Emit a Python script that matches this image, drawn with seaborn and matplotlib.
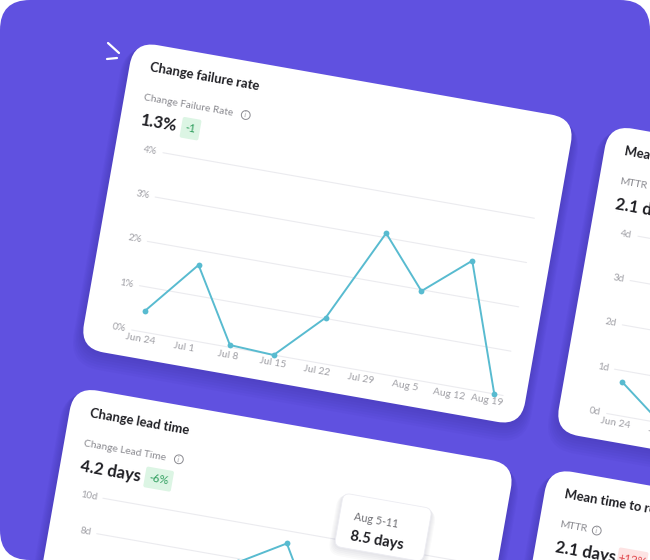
import numpy as np
import seaborn as sns
import matplotlib.pyplot as plt
from matplotlib.patches import FancyBboxPatch, Circle
from matplotlib.transforms import Affine2D

weeks = ['Jun 24', 'Jul 1', 'Jul 8', 'Jul 15', 'Jul 22', 'Jul 29', 'Aug 5', 'Aug 12', 'Aug 19']

cfr_weeks = weeks
cfr_values = [0.47, 1.68, 0.05, 0.0, 1.02, 3.1, 1.97, 2.83, 0.0]
cfr_ticks = [0, 1, 2, 3, 4]
cfr_tick_labels = ['0%', '1%', '2%', '3%', '4%']

lead_weeks = ['Jul 15', 'Jul 22', 'Jul 29', 'Aug 5']
lead_values = [7.8, 9.3, 5.1, 8.5]
lead_ticks = [0, 2, 4, 6, 8, 10]
lead_tick_labels = ['0d', '2d', '4d', '6d', '8d', '10d']

mttr_weeks = ['Jun 24', 'Jul 1']
mttr_values = [0.75, 0.0]
mttr_ticks = [0, 1, 2, 3, 4]
mttr_tick_labels = ['0d', '1d', '2d', '3d', '4d']

sns.set_theme(style='white')
plt.rcParams['font.family'] = ['Lato', 'DejaVu Sans']

PURPLE = '#6051E0'
LINE = '#58BBD0'
GRID = '#EBEBEF'
DARK = '#1F1F24'
GRAY = '#8A8A90'
TICK = '#A0A0A6'

ROT = 10.0
c, s = np.cos(np.radians(ROT)), np.sin(np.radians(ROT))
STEP = 44.8     # px between weeks inside a card
X0 = 9.75       # first week offset
PLOT_H = 180    # px height of plot area

fig = plt.figure(figsize=(6.5, 5.6), dpi=100, facecolor='white')
ax = fig.add_axes([0, 0, 1, 1])
ax.set_xlim(0, 650)
ax.set_ylim(560, 0)
ax.axis('off')

bg = FancyBboxPatch((0, 0), 650, 560, boxstyle='round,pad=0,rounding_size=30',
                    fc=PURPLE, ec='none', zorder=0)
ax.add_patch(bg)

# little white strokes top left
ax.plot([108, 119], [43, 53], color='white', lw=1.6, solid_capstyle='round', zorder=1)
ax.plot([107, 117], [59, 58], color='white', lw=1.6, solid_capstyle='round', zorder=1)


def put(frame, a, b, txt, z, **kw):
    ax.text(a, b, txt, transform=frame, rotation=-ROT, rotation_mode='anchor',
            zorder=z, **kw)


def card(ox, oy, z, title, subtitle, value, icon_a, badge=None, badge_a=0, badge_w=20,
         good=True):
    frame = Affine2D(np.array([[c, s, ox], [s, -c, oy], [0, 0, 1.0]])) + ax.transData
    # soft shadow
    for k in range(1, 8):
        ax.add_patch(FancyBboxPatch((-48 - k * 1.2, -27 - k * 2.6), 448 + k * 2.4, 312 + k * 2.0,
                                    boxstyle='round,pad=0,rounding_size=%d' % (24 + k),
                                    transform=frame, fc='#1a0f6e', ec='none', alpha=0.03,
                                    zorder=z))
    ax.add_patch(FancyBboxPatch((-48, -27), 448, 312, boxstyle='round,pad=0,rounding_size=24',
                                transform=frame, fc='white', ec='none', zorder=z + 0.1))
    put(frame, -28, 262, title, z + 0.5, fontsize=9.4, fontweight='bold', color=DARK,
        ha='left', va='center')
    put(frame, -28, 231, subtitle, z + 0.5, fontsize=7.4, color=GRAY, ha='left', va='center')
    ax.add_patch(Circle((icon_a, 231.5), 4.4, transform=frame, fc='none', ec=GRAY, lw=0.7,
                        zorder=z + 0.5))
    put(frame, icon_a - 0.6, 231.5, 'i', z + 0.5, fontsize=5, color=GRAY, ha='center',
        va='center')
    put(frame, -28, 208, value, z + 0.5, fontsize=12, fontweight='bold', color=DARK,
        ha='left', va='center')
    if badge:
        bgc, fgc = ('#DCF5E4', '#2F9E5E') if good else ('#FDE3E3', '#E0454A')
        ax.add_patch(FancyBboxPatch((badge_a, 198), badge_w, 21,
                                    boxstyle='round,pad=0,rounding_size=2',
                                    transform=frame, fc=bgc, ec='none', zorder=z + 0.4))
        put(frame, badge_a + badge_w / 2, 208.5, badge, z + 0.5, fontsize=8.2, color=fgc,
            ha='center', va='center')
    return frame


def chart(frame, z, dates, values, ticks, tick_labels, xlabels=True):
    sy = PLOT_H / ticks[-1]
    data_tf = Affine2D().scale(STEP, sy).translate(X0, 0) + frame
    for t, lab in zip(ticks, tick_labels):
        ax.plot([-X0 / STEP, 8.2], [t, t], transform=data_tf, color=GRID, lw=0.8, zorder=z + 0.2)
        put(frame, -6, t * sy, lab, z + 0.5, fontsize=7.2, color=TICK, ha='right', va='center')
    if xlabels:
        for i, w in enumerate(weeks):
            if i == len(weeks) - 1:
                put(frame, 378, -8, w, z + 0.5, fontsize=7.4, color=TICK, ha='right', va='center')
            else:
                put(frame, X0 + STEP * i, -8, w, z + 0.5, fontsize=7.4, color=TICK, ha='center',
                    va='center')
    xs = [weeks.index(d) for d in dates]
    sns.lineplot(x=xs, y=values, ax=ax, transform=data_tf, color=LINE, lw=1.4, marker='o',
                 markersize=4.2, markeredgewidth=0, zorder=z + 0.3)


# card 3 (top right, cut off)
f3 = card(606.7, 413.5, 10, 'Mean time to restore', 'MTTR', '2.1 days', 10)
chart(f3, 10, mttr_weeks, mttr_values, mttr_ticks, mttr_tick_labels)

# main card
f1 = card(131.7, 330.0, 20, 'Change failure rate', 'Change Failure Rate', '1.3%', 75,
          badge='-1', badge_a=13.5, badge_w=19)
chart(f1, 20, cfr_weeks, cfr_values, cfr_ticks, cfr_tick_labels)

# card 2 (bottom left)
f2 = card(71.7, 675.5, 30, 'Change lead time', 'Change Lead Time', '4.2 days', 68,
          badge='-6%', badge_a=37.5, badge_w=28)
chart(f2, 30, lead_weeks, lead_values, lead_ticks, lead_tick_labels, xlabels=False)

# tooltip on card 2
for k in range(1, 6):
    ax.add_patch(FancyBboxPatch((236 - k, 173 - k * 1.8), 90 + k * 2, 54 + k * 1.5,
                                boxstyle='round,pad=0,rounding_size=%d' % (7 + k),
                                transform=f2, fc='#303050', ec='none', alpha=0.025, zorder=35))
ax.add_patch(FancyBboxPatch((236, 173), 90, 54, boxstyle='round,pad=0,rounding_size=7',
                            transform=f2, fc='white', ec='#ECECF2', lw=0.6, zorder=35.2))
put(f2, 250, 205, 'Aug 5-11', 35.5, fontsize=7.8, color='#6E6E73', ha='left', va='center')
put(f2, 250, 186, '8.5 days', 35.5, fontsize=10.5, fontweight='bold', color=DARK,
    ha='left', va='center')

# card 4 (bottom right, cut off)
f4 = card(546.7, 756.8, 40, 'Mean time to restore', 'MTTR', '2.1 days', 10,
          badge='+12%', badge_a=35, badge_w=30, good=False)

fig.savefig('out.png', dpi=100, facecolor='white')
